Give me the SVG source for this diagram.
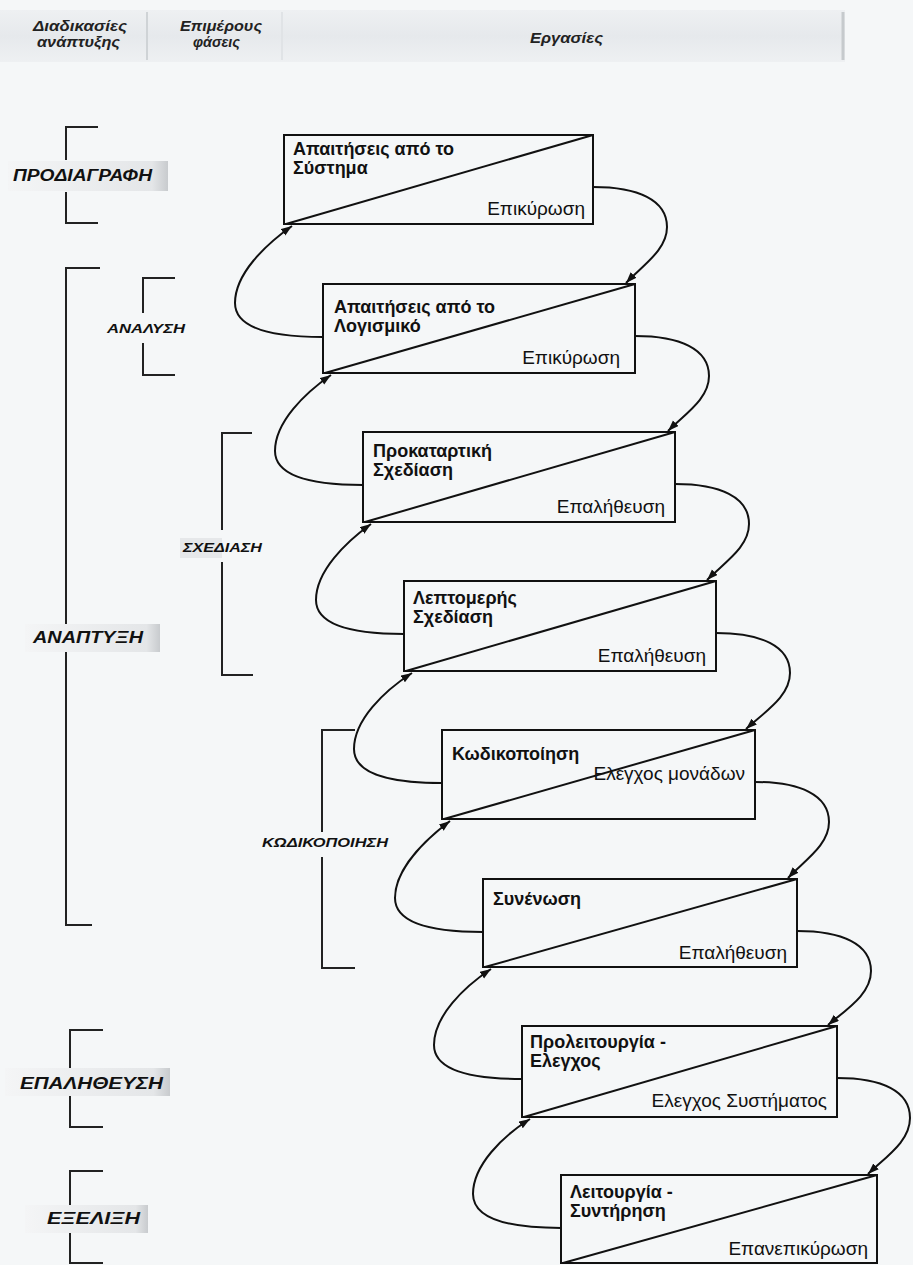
<svg xmlns="http://www.w3.org/2000/svg" width="913" height="1265" viewBox="0 0 913 1265">
<defs>
<style>
.box{fill:none;stroke:#111;stroke-width:2}
.diag{stroke:#111;stroke-width:2;fill:none}
.title{font-family:"Liberation Sans",Arial,sans-serif;font-weight:bold;font-size:18px;fill:#111}
.lab{font-family:"Liberation Sans",Arial,sans-serif;font-size:19px;fill:#111}
.conn{fill:none;stroke:#111;stroke-width:2;marker-end:url(#arr)}
.br{fill:none;stroke:#222;stroke-width:2}
.ph1{font-family:"Liberation Sans",Arial,sans-serif;font-weight:bold;font-style:italic;font-size:16px;fill:#111}
.ph2{font-family:"Liberation Sans",Arial,sans-serif;font-weight:bold;font-style:italic;font-size:12px;fill:#111}
.hd{font-family:"Liberation Sans",Arial,sans-serif;font-weight:bold;font-style:italic;font-size:14px;fill:#222}
.lbg{fill:url(#lg)}
</style>
<linearGradient id="lg" x1="0" y1="0" x2="1" y2="0">
<stop offset="0" stop-color="#f4f5f6"/>
<stop offset="0.9" stop-color="#e4e6e8"/>
<stop offset="1" stop-color="#c8cbce"/>
</linearGradient>
<linearGradient id="hg" x1="0" y1="0" x2="0" y2="1">
<stop offset="0" stop-color="#eef0f2"/>
<stop offset="0.5" stop-color="#e6e9ec"/>
<stop offset="1" stop-color="#eef0f2"/>
</linearGradient>
<marker id="arr" markerWidth="12" markerHeight="10" refX="11" refY="4" orient="auto" markerUnits="userSpaceOnUse">
<path d="M0,0 L11,4 L0,8 z" fill="#111"/>
</marker>
</defs>
<rect width="913" height="1265" fill="#f5f7f8"/>

<g id="header">
<rect x="0" y="10" width="845" height="52" fill="url(#hg)"/>
<line x1="147" y1="12" x2="147" y2="60" stroke="#cfd3d6" stroke-width="2"/>
<line x1="282" y1="12" x2="282" y2="60" stroke="#e0e3e6" stroke-width="2"/>
<line x1="843" y1="12" x2="843" y2="60" stroke="#c6cacd" stroke-width="3"/>
<text class="hd" x="33" y="31" textLength="94" lengthAdjust="spacingAndGlyphs">Διαδικασίες</text>
<text class="hd" x="37" y="47" textLength="83" lengthAdjust="spacingAndGlyphs">ανάπτυξης</text>
<text class="hd" x="180" y="31" textLength="82" lengthAdjust="spacingAndGlyphs">Επιμέρους</text>
<text class="hd" x="193" y="47" textLength="47" lengthAdjust="spacingAndGlyphs">φάσεις</text>
<text class="hd" x="530" y="43" textLength="73" lengthAdjust="spacingAndGlyphs">Εργασίες</text>
</g>

<g id="phase-prodiagrafi">
<path class="br" d="M98,127 H66 V160 M66,192 V223 H98"/>
<rect class="lbg" x="8" y="161" width="160" height="30"/>
<text class="ph1" x="13" y="181" textLength="139" lengthAdjust="spacingAndGlyphs">ΠΡΟΔΙΑΓΡΑΦΗ</text>
</g>
<g id="phase-anaptyxi">
<path class="br" d="M100,268 H66 V624 M66,652 V925 H92"/>
<rect class="lbg" x="25" y="624" width="135" height="28"/>
<text class="ph1" x="33" y="643" textLength="110" lengthAdjust="spacingAndGlyphs">ΑΝΑΠΤΥΞΗ</text>
</g>
<g id="phase-epalitheusi">
<path class="br" d="M103,1030 H70 V1068 M70,1096 V1127 H103"/>
<rect class="lbg" x="5" y="1068" width="165" height="28"/>
<text class="ph1" x="20" y="1089" textLength="143" lengthAdjust="spacingAndGlyphs">ΕΠΑΛΗΘΕΥΣΗ</text>
</g>
<g id="phase-exelixi">
<path class="br" d="M103,1171 H70 V1205 M70,1233 V1263 H103"/>
<rect class="lbg" x="25" y="1205" width="123" height="28"/>
<text class="ph1" x="47" y="1224" textLength="93" lengthAdjust="spacingAndGlyphs">ΕΞΕΛΙΞΗ</text>
</g>

<g id="sub-analysi">
<path class="br" d="M175,278 H143 V313 M143,343 V375 H175"/>
<text class="ph2" x="107" y="333" textLength="78" lengthAdjust="spacingAndGlyphs">ΑΝΑΛΥΣΗ</text>
</g>
<g id="sub-schediasi">
<path class="br" d="M252,433 H222 V530 M222,562 V675 H253"/>
<rect x="180" y="538" width="42" height="20" fill="#e6e8ea"/>
<text class="ph2" x="183" y="552" textLength="79" lengthAdjust="spacingAndGlyphs">ΣΧΕΔΙΑΣΗ</text>
</g>
<g id="sub-kodikopoiisi">
<path class="br" d="M355,730 H322 V832 M322,857 V968 H355"/>
<text class="ph2" x="262" y="847" textLength="126" lengthAdjust="spacingAndGlyphs">ΚΩΔΙΚΟΠΟΙΗΣΗ</text>
</g>

<g id="connectors">
<path class="conn" d="M593,187 C638,187 667,200 667,227 C667,250 643,265 626,283"/>
<path class="conn" d="M635,336 C680,336 709,349 709,376 C709,399 685,414 668,431"/>
<path class="conn" d="M675,484 C720,484 749,497 749,524 C749,547 725,562 707,580"/>
<path class="conn" d="M716,633 C761,633 790,646 790,673 C790,696 766,711 746,729"/>
<path class="conn" d="M755,782 C800,782 829,795 829,822 C829,845 805,860 788,878"/>
<path class="conn" d="M797,931 C842,931 871,944 871,971 C871,994 847,1009 828,1025"/>
<path class="conn" d="M837,1078 C882,1078 910,1091 910,1118 C910,1141 887,1156 868,1174"/>
<path class="conn" d="M323,337 C285,337 235,332 235,303 C235,274 265,245 292,226"/>
<path class="conn" d="M363,485 C325,485 275,480 275,451 C275,422 305,393 331,375"/>
<path class="conn" d="M404,634 C366,634 316,629 316,600 C316,571 346,542 371,524"/>
<path class="conn" d="M442,783 C404,783 354,778 354,749 C354,720 384,691 412,673"/>
<path class="conn" d="M483,932 C445,932 395,927 395,898 C395,869 425,840 450,821"/>
<path class="conn" d="M522,1079 C484,1079 434,1074 434,1045 C434,1016 464,987 491,969"/>
<path class="conn" d="M561,1228 C523,1228 473,1223 473,1194 C473,1165 503,1136 530,1119"/>
</g>

<g id="box1">
<rect class="box" x="284" y="135" width="309" height="89"/>
<line class="diag" x1="286" y1="224" x2="593" y2="135"/>
<text class="title" x="293" y="155">Απαιτήσεις από το</text>
<text class="title" x="293" y="174">Σύστημα</text>
<text class="lab" x="585" y="215" text-anchor="end">Επικύρωση</text>
</g>
<g id="box2">
<rect class="box" x="323" y="284" width="312" height="89"/>
<line class="diag" x1="325" y1="373" x2="635" y2="284"/>
<text class="title" x="334" y="313">Απαιτήσεις από το</text>
<text class="title" x="334" y="332">Λογισμικό</text>
<text class="lab" x="620" y="364" text-anchor="end">Επικύρωση</text>
</g>
<g id="box3">
<rect class="box" x="363" y="432" width="312" height="90"/>
<line class="diag" x1="365" y1="522" x2="675" y2="432"/>
<text class="title" x="373" y="457">Προκαταρτική</text>
<text class="title" x="373" y="476">Σχεδίαση</text>
<text class="lab" x="665" y="513" text-anchor="end">Επαλήθευση</text>
</g>
<g id="box4">
<rect class="box" x="404" y="581" width="312" height="90"/>
<line class="diag" x1="406" y1="671" x2="716" y2="581"/>
<text class="title" x="413" y="604">Λεπτομερής</text>
<text class="title" x="413" y="623">Σχεδίαση</text>
<text class="lab" x="706" y="662" text-anchor="end">Επαλήθευση</text>
</g>
<g id="box5">
<rect class="box" x="442" y="730" width="313" height="89"/>
<line class="diag" x1="444" y1="819" x2="755" y2="730"/>
<text class="title" x="452" y="760">Κωδικοποίηση</text>
<text class="lab" x="745" y="780" text-anchor="end">Ελεγχος μονάδων</text>
</g>
<g id="box6">
<rect class="box" x="483" y="879" width="314" height="88"/>
<line class="diag" x1="485" y1="967" x2="797" y2="879"/>
<text class="title" x="493" y="905">Συνένωση</text>
<text class="lab" x="787" y="959" text-anchor="end">Επαλήθευση</text>
</g>
<g id="box7">
<rect class="box" x="522" y="1026" width="315" height="91"/>
<line class="diag" x1="524" y1="1117" x2="837" y2="1026"/>
<text class="title" x="530" y="1048">Προλειτουργία -</text>
<text class="title" x="530" y="1067">Ελεγχος</text>
<text class="lab" x="827" y="1107" text-anchor="end">Ελεγχος Συστήματος</text>
</g>
<g id="box8">
<rect class="box" x="561" y="1175" width="316" height="88"/>
<line class="diag" x1="563" y1="1263" x2="877" y2="1175"/>
<text class="title" x="570" y="1198">Λειτουργία -</text>
<text class="title" x="570" y="1217">Συντήρηση</text>
<text class="lab" x="868" y="1255" text-anchor="end">Επανεπικύρωση</text>
</g>
</svg>
